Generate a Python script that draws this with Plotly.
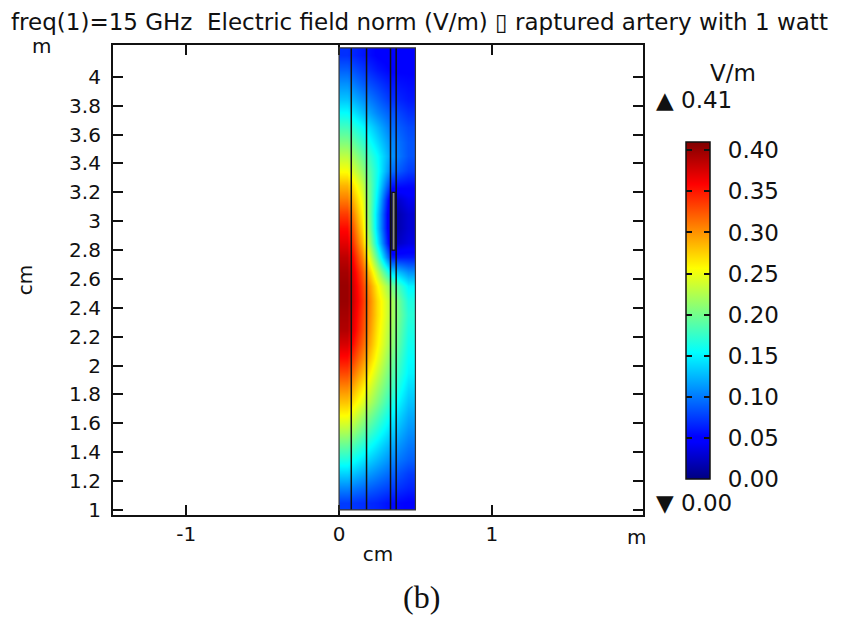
import plotly.graph_objects as go

# ---- data ----
x_centers = [0.05, 0.15, 0.25, 0.35, 0.45]          # cm
y_centers = [1.05, 1.15, 1.25, 1.35, 1.45, 1.55, 1.65, 1.75, 1.85, 1.95,
             2.05, 2.15, 2.25, 2.35, 2.45, 2.55, 2.65, 2.75, 2.85, 2.95,
             3.05, 3.15, 3.25, 3.35, 3.45, 3.55, 3.65, 3.75, 3.85, 3.95,
             4.05, 4.15]                              # cm
field = [  # V/m, rows follow y_centers (bottom -> top)
    [0.075, 0.070, 0.065, 0.055, 0.050],
    [0.105, 0.095, 0.085, 0.075, 0.065],
    [0.135, 0.120, 0.105, 0.090, 0.075],
    [0.165, 0.145, 0.125, 0.105, 0.090],
    [0.195, 0.170, 0.145, 0.120, 0.100],
    [0.225, 0.195, 0.165, 0.135, 0.110],
    [0.255, 0.220, 0.185, 0.150, 0.120],
    [0.280, 0.245, 0.205, 0.165, 0.130],
    [0.305, 0.265, 0.220, 0.180, 0.140],
    [0.330, 0.285, 0.235, 0.190, 0.150],
    [0.355, 0.305, 0.250, 0.200, 0.155],
    [0.375, 0.320, 0.260, 0.210, 0.160],
    [0.390, 0.330, 0.265, 0.215, 0.165],
    [0.395, 0.335, 0.270, 0.220, 0.170],
    [0.400, 0.340, 0.270, 0.220, 0.165],
    [0.400, 0.335, 0.260, 0.200, 0.150],
    [0.395, 0.325, 0.230, 0.140, 0.110],
    [0.385, 0.305, 0.185, 0.060, 0.060],
    [0.370, 0.285, 0.150, 0.020, 0.035],
    [0.355, 0.270, 0.135, 0.010, 0.030],
    [0.335, 0.260, 0.135, 0.010, 0.030],
    [0.310, 0.250, 0.145, 0.020, 0.040],
    [0.285, 0.235, 0.155, 0.060, 0.055],
    [0.255, 0.215, 0.160, 0.095, 0.075],
    [0.230, 0.195, 0.155, 0.110, 0.085],
    [0.205, 0.175, 0.140, 0.105, 0.085],
    [0.180, 0.155, 0.125, 0.095, 0.080],
    [0.155, 0.130, 0.105, 0.085, 0.070],
    [0.130, 0.110, 0.090, 0.070, 0.060],
    [0.110, 0.090, 0.075, 0.060, 0.055],
    [0.090, 0.075, 0.060, 0.050, 0.050],
    [0.070, 0.060, 0.050, 0.045, 0.045],
]
layer_lines = [0.08, 0.18, 0.337, 0.374]   # tissue layer boundaries (cm)
domain_x = [0.0, 0.5]
domain_y = [1.0, 4.2]
artery_x = [0.347, 0.367]
artery_y = [2.8, 3.2]
x_ticks = [-1, 0, 1]
y_ticks = [1, 1.2, 1.4, 1.6, 1.8, 2, 2.2, 2.4, 2.6, 2.8, 3, 3.2, 3.4, 3.6, 3.8, 4]
cb_ticks = [0.0, 0.05, 0.10, 0.15, 0.20, 0.25, 0.30, 0.35, 0.40]
field_min, field_max = 0.00, 0.41

jet = [[0.0, "rgb(0,0,128)"], [0.11, "rgb(0,0,255)"], [0.125, "rgb(0,0,255)"],
       [0.375, "rgb(0,255,255)"], [0.625, "rgb(255,255,0)"],
       [0.875, "rgb(255,0,0)"], [1.0, "rgb(128,0,0)"]]
clear = [[0, "rgba(0,0,0,0)"], [1, "rgba(0,0,0,0)"]]

FONT = "DejaVu Sans"
INK = "#111"
CB_X, CB_THICK_PX, CB_LEN, CB_Y = 1.081, 24, 0.716, 0.435
PAD = "\u00a0\u2009"

fig = go.Figure()
fig.add_trace(go.Heatmap(
    x=x_centers, y=y_centers, z=field, zsmooth="best",
    colorscale=jet, zmin=field_min, zmax=field_max,
    colorbar=dict(
        x=CB_X, xanchor="left", xpad=0, thickness=CB_THICK_PX,
        len=CB_LEN, y=CB_Y, yanchor="middle", ypad=0,
        outlinewidth=1.5, outlinecolor=INK,
        tickvals=cb_ticks, ticktext=[PAD + f"{v:.2f}" for v in cb_ticks],
        ticks="inside", ticklen=6, tickcolor=INK, tickwidth=1.5,
        tickfont=dict(family=FONT, size=23, color=INK),
    ),
    hoverinfo="skip",
))
# transparent companion bar that supplies the tick dashes on the left edge of the colour bar
fig.add_trace(go.Scatter(
    x=[domain_x[0]], y=[domain_y[0]], mode="markers", hoverinfo="skip", showlegend=False,
    marker=dict(size=1, opacity=0, color=[field_min], cmin=field_min, cmax=field_max,
                colorscale=clear, showscale=True,
                colorbar=dict(x=CB_X, xanchor="left", xpad=0, thickness=6,
                              len=CB_LEN, y=CB_Y, yanchor="middle", ypad=0,
                              outlinewidth=0, tickvals=cb_ticks, showticklabels=False,
                              ticks="inside", ticklen=6, tickcolor=INK, tickwidth=1.5)),
))

shapes = []
for xv in layer_lines:
    shapes.append(dict(type="line", x0=xv, x1=xv, y0=domain_y[0], y1=domain_y[1],
                       xref="x", yref="y", line=dict(color=INK, width=1.5)))
shapes.append(dict(type="rect", x0=domain_x[0], x1=domain_x[1], y0=domain_y[0], y1=domain_y[1],
                   xref="x", yref="y", line=dict(color="#333", width=1.2)))
shapes.append(dict(type="rect", x0=artery_x[0], x1=artery_x[1], y0=artery_y[0], y1=artery_y[1],
                   xref="x", yref="y", fillcolor="#8a8a8a", line=dict(color=INK, width=1.2)))

annotations = [
    dict(text="freq(1)=15 GHz  Electric field norm (V/m) \u25af raptured artery with 1 watt",
         xref="paper", yref="paper", x=-0.197, y=1.049, xanchor="left", yanchor="middle",
         showarrow=False, font=dict(family=FONT, size=23, color=INK)),
    dict(text="m", xref="paper", yref="paper", x=-0.134, y=0.998, xanchor="center", yanchor="middle",
         showarrow=False, font=dict(family=FONT, size=20, color=INK)),
    dict(text="m", xref="paper", yref="paper", x=0.987, y=-0.047, xanchor="center", yanchor="middle",
         showarrow=False, font=dict(family=FONT, size=20, color=INK)),
    dict(text="V/m", xref="paper", yref="paper", x=1.17, y=0.94, xanchor="center", yanchor="middle",
         showarrow=False, font=dict(family=FONT, size=23, color=INK)),
    dict(text="\u25b2 %.2f" % field_max, xref="paper", yref="paper", x=1.021, y=0.883,
         xanchor="left", yanchor="middle",
         showarrow=False, font=dict(family=FONT, size=23, color=INK)),
    dict(text="\u25bc %.2f" % field_min, xref="paper", yref="paper", x=1.021, y=0.025,
         xanchor="left", yanchor="middle",
         showarrow=False, font=dict(family=FONT, size=23, color=INK)),
    dict(text="(b)", xref="paper", yref="paper", x=0.582, y=-0.175, xanchor="center", yanchor="middle",
         showarrow=False, font=dict(family="Liberation Serif", size=32, color=INK)),
]

axis_common = dict(showgrid=False, zeroline=False, showline=True, linecolor=INK, linewidth=1.5,
                   mirror="ticks", ticks="inside", ticklen=10, tickcolor=INK, tickwidth=1.5,
                   tickfont=dict(family=FONT, size=20, color=INK))
fig.update_layout(
    width=843, height=619,
    margin=dict(l=105, r=208, t=37, b=112),
    paper_bgcolor="white", plot_bgcolor="white",
    shapes=shapes, annotations=annotations, showlegend=False,
    xaxis=dict(range=[-1.48, 1.99], tickvals=x_ticks, ticktext=[str(v) for v in x_ticks],
               title=dict(text="cm", font=dict(family=FONT, size=20, color=INK), standoff=2),
               **axis_common),
    yaxis=dict(range=[0.965, 4.22], tickvals=y_ticks,
               ticktext=[f"{v:g}" + "\u00a0" for v in y_ticks],
               title=dict(text="cm", font=dict(family=FONT, size=20, color=INK), standoff=31),
               **axis_common),
)
fig.write_html("out.html")
